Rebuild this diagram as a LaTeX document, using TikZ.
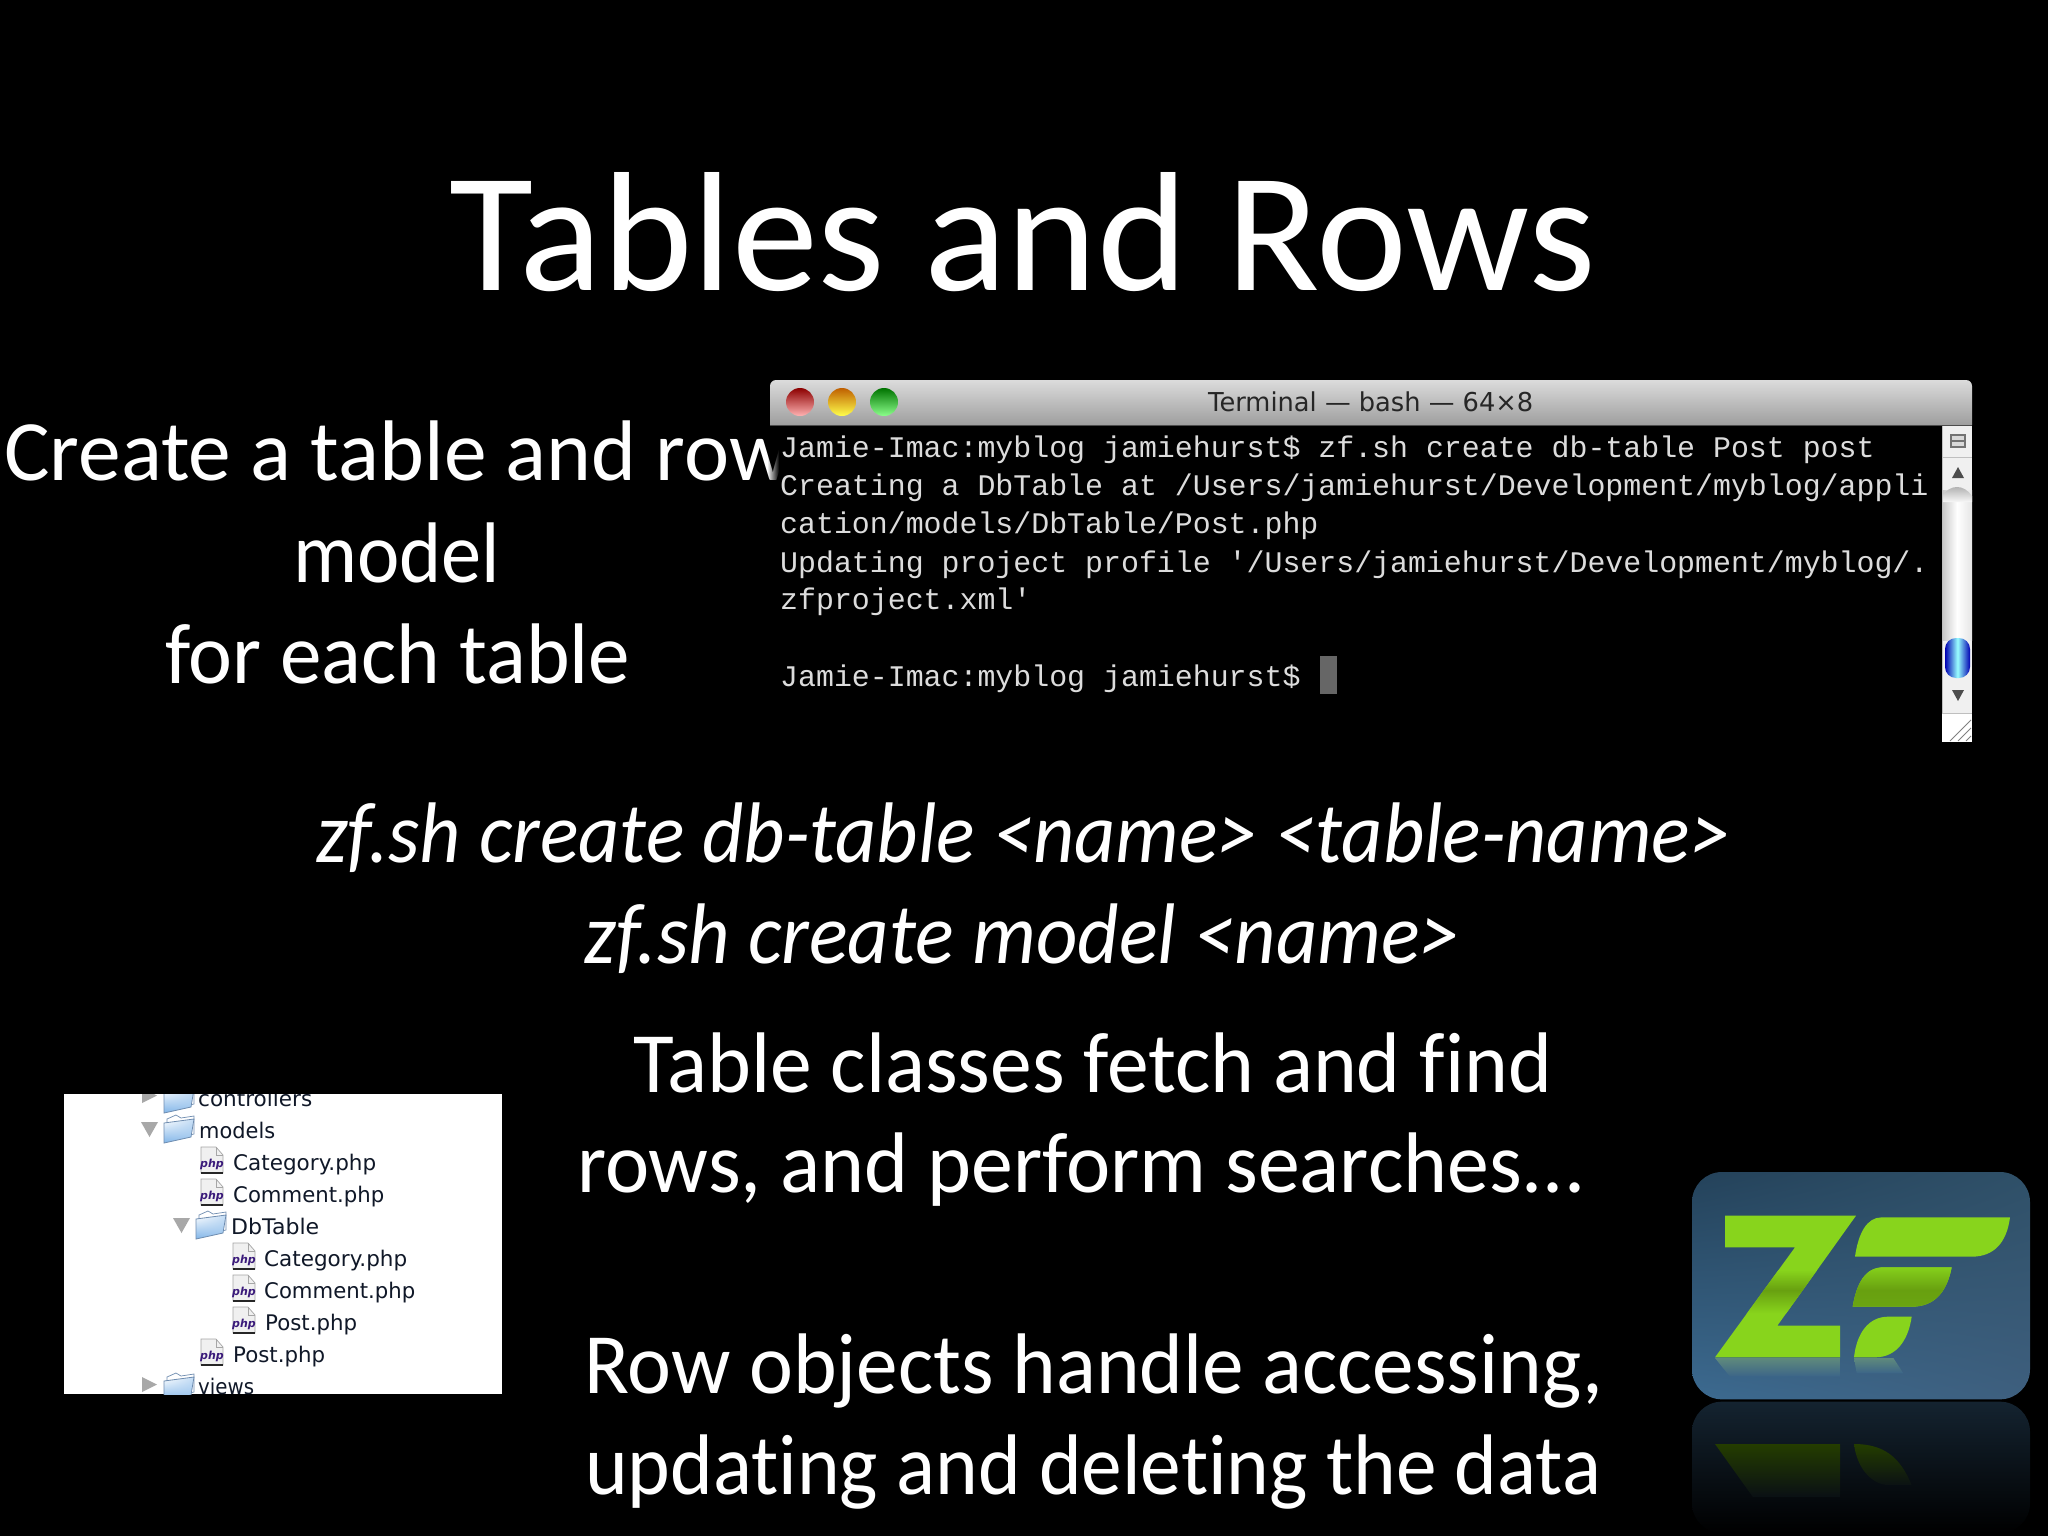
\documentclass[tikz,border=0pt]{standalone}
\usepackage{fontspec}
\usepackage{graphicx}
\usetikzlibrary{shadings}
\setmainfont[Ligatures=NoCommon]{Carlito}
\newfontfamily\termfont{Liberation Mono}
\newfontfamily\uifont{DejaVu Sans}
\definecolor{termtext}{HTML}{DCDCDC}
\definecolor{zgreen}{HTML}{88D41C}
\definecolor{zdark}{HTML}{68A010}
\definecolor{reflgreen}{HTML}{243D00}
\definecolor{reflbg}{HTML}{142330}
\definecolor{reflend}{HTML}{0A1014}
\definecolor{cardtl}{HTML}{24425A}
\definecolor{cardtr}{HTML}{2F5068}
\definecolor{cardbl}{HTML}{3C6A90}
\definecolor{cardbr}{HTML}{3E5F7E}
\definecolor{cardglow}{HTML}{5F8A7C}
\definecolor{cardlow}{HTML}{3C6588}
\definecolor{folderblue}{HTML}{7FB4E8}
\definecolor{folderedge}{HTML}{6F8DB0}
\definecolor{phppurple}{HTML}{3A1A7A}
\definecolor{rowtext}{HTML}{101828}
\definecolor{arrowgrey}{HTML}{A8A8A8}
\tikzset{
  bodytext/.style={inner sep=0pt,anchor=base west,text=white,font=\fontsize{86}{86}\selectfont},
  italictext/.style={inner sep=0pt,anchor=base west,text=white,font=\fontsize{86}{86}\selectfont\itshape},
  termline/.style={inner sep=0pt,anchor=base west,text=termtext,font=\termfont\fontsize{29.9}{30}\selectfont},
  filerow/.style={inner sep=0pt,anchor=base west,text=rowtext,font=\uifont\fontsize{21.5}{22}\selectfont},
  phplabel/.style={inner sep=0pt,text=phppurple,font=\uifont\bfseries\itshape\fontsize{11}{11}\selectfont},
}
\newcommand{\fitx}[2]{\resizebox{#1pt}{\height}{#2}}
\newcommand{\mkfolder}[2]{%
  \begin{scope}[shift={(#1,#2)}]
    \fill[white,draw=folderedge,line width=.7pt] (3,6) -- (12,2) -- (17,5) -- (30,3) -- (30,21) -- (3,27) -- cycle;
    \shade[upper left=white,upper right=folderblue!45!white,lower left=folderblue,lower right=folderblue!80!white,draw=folderedge,line width=.8pt]
      (0,10) -- (30,6) -- (27,24) -- (0,30) -- cycle;
  \end{scope}}
\newcommand{\mkphp}[3]{%
  \begin{scope}[shift={(#1,#2)}]
    \fill[black!6,draw=gray!70,line width=.7pt] (0,0) -- (15,0) -- (22,8) -- (22,26) -- (0,26) -- cycle;
    \draw[gray!70,line width=.7pt] (15,0) -- (15,8) -- (22,8);
    \draw[gray!30!black,line width=1.2pt] (0,26) -- (22,26);
    \node[phplabel] (#3) at (11,17) {php};
  \end{scope}}
\newcommand{\tridn}[2]{\fill[arrowgrey] (#1,#2) -- ++(17,0) -- ++(-8.5,15) -- cycle;}
\newcommand{\trirt}[2]{\fill[arrowgrey] (#1,#2) -- ++(15,7.5) -- ++(-15,7.5) -- cycle;}
\begin{document}
\begin{tikzpicture}[x=1pt,y=-1pt]
\useasboundingbox (0,0) rectangle (2048,1536);
\fill[black] (0,0) rectangle (2048,1536);

% slide text
\node[inner sep=0pt,anchor=base west,text=white,font=\fontsize{170}{170}\selectfont] (title) at (449,290) {\fitx{1147}{Tables and Rows}};
\node[bodytext] (create) at (4,480) {\fitx{786}{Create a table and row}};
\node[bodytext] (model) at (293,582) {\fitx{207}{model}};
\node[bodytext] (foreach) at (165,683) {\fitx{465}{for each table}};
\node[italictext] (cmdone) at (316,862) {\fitx{1414}{zf.sh create db-table <name> <table-name>}};
\node[italictext] (cmdtwo) at (584,963) {\fitx{876}{zf.sh create model <name>}};
\node[bodytext] (classone) at (633,1092) {\fitx{919}{Table classes fetch and find}};
\node[bodytext] (classtwo) at (577,1192) {\fitx{1008}{rows, and perform searches...}};
\node[bodytext] (rowone) at (584,1393) {\fitx{1019}{Row objects handle accessing,}};
\node[bodytext] (rowtwo) at (585,1494) {\fitx{1016}{updating and deleting the data}};

% terminal window
\foreach \i in {0,...,11}{
  \pgfmathsetmacro{\op}{(\i+1)/12}
  \fill[black,opacity=\op] (768+\i,425) rectangle (769+\i,742);
}
\fill[black] (780,425) rectangle (1942,742);
\shade[top color=black!14,bottom color=black!38] (770,425) {[rounded corners=6pt] -- (770,380) -- (1972,380)} -- (1972,425) -- cycle;
\draw[black!70,line width=1pt] (770,425) -- (1972,425);
\shade[top color=red!55!black,bottom color=red!30!white] (800,402) ellipse [x radius=14,y radius=14];
\shade[top color=orange!75!black,bottom color=yellow!70!white] (842,402) ellipse [x radius=14,y radius=14];
\shade[top color=green!45!black,bottom color=green!45!white] (884,402) ellipse [x radius=14,y radius=14];
\node[inner sep=0pt,anchor=base west,text=black!85,font=\uifont\fontsize{26}{26}\selectfont] (wintitle) at (1208,411) {\fitx{325}{Terminal — bash — 64×8}};

\node[termline] (tone) at (780,457) {Jamie-Imac:myblog jamiehurst\$ zf.sh create db-table Post post};
\node[termline] (ttwo) at (780,495) {Creating a DbTable at /Users/jamiehurst/Development/myblog/appli};
\node[termline] (tthree) at (780,533) {cation/models/DbTable/Post.php};
\node[termline] (tfour) at (780,572) {Updating project profile '/Users/jamiehurst/Development/myblog/.};
\node[termline] (tfive) at (780,609) {zfproject.xml'};
\node[termline] (tsix) at (780,686) {Jamie-Imac:myblog jamiehurst\$};
\fill[black!60] (1320,656) rectangle (1337,694);

% scrollbar
\fill[black!6] (1942,426) rectangle (1972,742);
\shade[left color=black!22,right color=black!10,middle color=white] (1942,490) rectangle (1972,640);
\shade[top color=black!35,bottom color=black!3] (1942,496) .. controls (1950,484) and (1964,484) .. (1972,496) -- (1972,502) -- (1942,502) -- cycle;
\draw[black!25,line width=.8pt] (1942,426) -- (1942,742);
\draw[black!25,line width=.8pt] (1942,457) -- (1972,457);
\fill[black!55] (1950,434) rectangle (1966,448);
\fill[black!15] (1952,436) rectangle (1964,440);
\fill[black!15] (1952,442) rectangle (1964,446);
\fill[black!70] (1958,467) -- (1964,478) -- (1952,478) -- cycle;
\shade[left color=blue!70!black,right color=blue!70!black,middle color=cyan!40!white,rounded corners=11pt] (1945,638) rectangle (1970,678);
\fill[black!70] (1952,690) -- (1964,690) -- (1958,701) -- cycle;
\fill[white] (1942,713) rectangle (1972,742);
\draw[black!25,line width=.8pt] (1942,713) -- (1972,713);
\foreach \d in {0,8,16}{\draw[black!50,line width=1pt] (1950+\d,741) -- (1971,720+\d);}

% file tree
\begin{scope}
\clip (64,1094) rectangle (502,1394);
\fill[white] (64,1094) rectangle (502,1394);
\trirt{142}{1088}
\mkfolder{164}{1083}
\tridn{141}{1122}
\mkfolder{164}{1113}
\tridn{173}{1218}
\mkfolder{196}{1209}
\trirt{142}{1377}
\mkfolder{164}{1371}
\mkphp{201}{1147}{phpa}
\mkphp{201}{1179}{phpb}
\mkphp{233}{1243}{phpc}
\mkphp{233}{1275}{phpd}
\mkphp{233}{1307}{phpe}
\mkphp{201}{1339}{phpf}
\node[filerow] (rcontrollers) at (198,1106) {\fitx{114}{controllers}};
\node[filerow] (rmodels) at (199,1138) {\fitx{76}{models}};
\node[filerow] (rcatone) at (233,1170) {\fitx{143}{Category.php}};
\node[filerow] (rcomone) at (233,1202) {\fitx{151}{Comment.php}};
\node[filerow] (rdb) at (231,1234) {\fitx{88}{DbTable}};
\node[filerow] (rcattwo) at (264,1266) {\fitx{143}{Category.php}};
\node[filerow] (rcomtwo) at (264,1298) {\fitx{151}{Comment.php}};
\node[filerow] (rposttwo) at (265,1330) {\fitx{92}{Post.php}};
\node[filerow] (rpostone) at (233,1362) {\fitx{92}{Post.php}};
\node[filerow] (rviews) at (198,1394) {\fitx{56}{views}};
\end{scope}

% logo
\begin{scope}[shift={(1670,1150)},x=.33333pt,y=-.33333pt]
  % reflection
  \shade[top color=reflbg,bottom color=black,rounded corners=30pt] (66,755) rectangle (1080,1150);
  \begin{scope}
    \clip (135,882) -- (510,882) -- (510,1090) -- (320,1090) -- (255,1050) -- cycle;
    \shade[top color=reflgreen,bottom color=reflend] (100,882) rectangle (540,1040);
  \end{scope}
  \begin{scope}
    \clip (552,882) .. controls (640,882) and (690,920) .. (725,1005) -- (650,1005) .. controls (600,1000) and (560,950) .. (552,882) -- cycle;
    \shade[top color=reflgreen,bottom color=reflend] (540,882) rectangle (740,1010);
  \end{scope}
  % card
  \shade[upper left=cardtl,upper right=cardtr,lower left=cardbl,lower right=cardbr,rounded corners=30pt] (66,66) rectangle (1080,748);
  \shade[top color=cardglow,bottom color=cardlow] (135,624) -- (510,624) -- (510,680) -- (180,680) -- cycle;
  \shade[top color=cardglow,bottom color=cardlow] (552,624) -- (670,624) -- (700,670) -- (560,670) -- cycle;
  % Z
  \begin{scope}
    \clip (165,197) -- (558,197) -- (322,527) -- (510,527) -- (510,622) -- (135,622) -- (375,292) -- (165,292) -- cycle;
    \fill[zgreen] (130,190) rectangle (560,630);
    \shade[top color=zgreen,bottom color=zdark] (130,360) rectangle (560,420);
    \shade[top color=zdark,bottom color=zgreen] (130,420) rectangle (560,490);
  \end{scope}
  \fill[zgreen] (555,320) .. controls (565,250) and (590,202) .. (635,202) -- (1020,202) .. controls (1010,280) and (970,320) .. (905,320) -- cycle;
  \begin{scope}
    \clip (548,470) .. controls (560,400) and (585,352) .. (640,352) -- (845,352) .. controls (830,430) and (790,470) .. (725,470) -- cycle;
    \fill[zgreen] (540,345) rectangle (850,475);
    \shade[top color=zgreen,bottom color=zdark] (540,345) rectangle (850,420);
    \shade[top color=zdark,bottom color=zdark!90!zgreen] (540,420) rectangle (850,475);
  \end{scope}
  \fill[zgreen] (552,622) .. controls (560,550) and (595,500) .. (655,500) -- (725,500) .. controls (715,570) and (680,622) .. (615,622) -- cycle;
\end{scope}
\end{tikzpicture}
\end{document}
